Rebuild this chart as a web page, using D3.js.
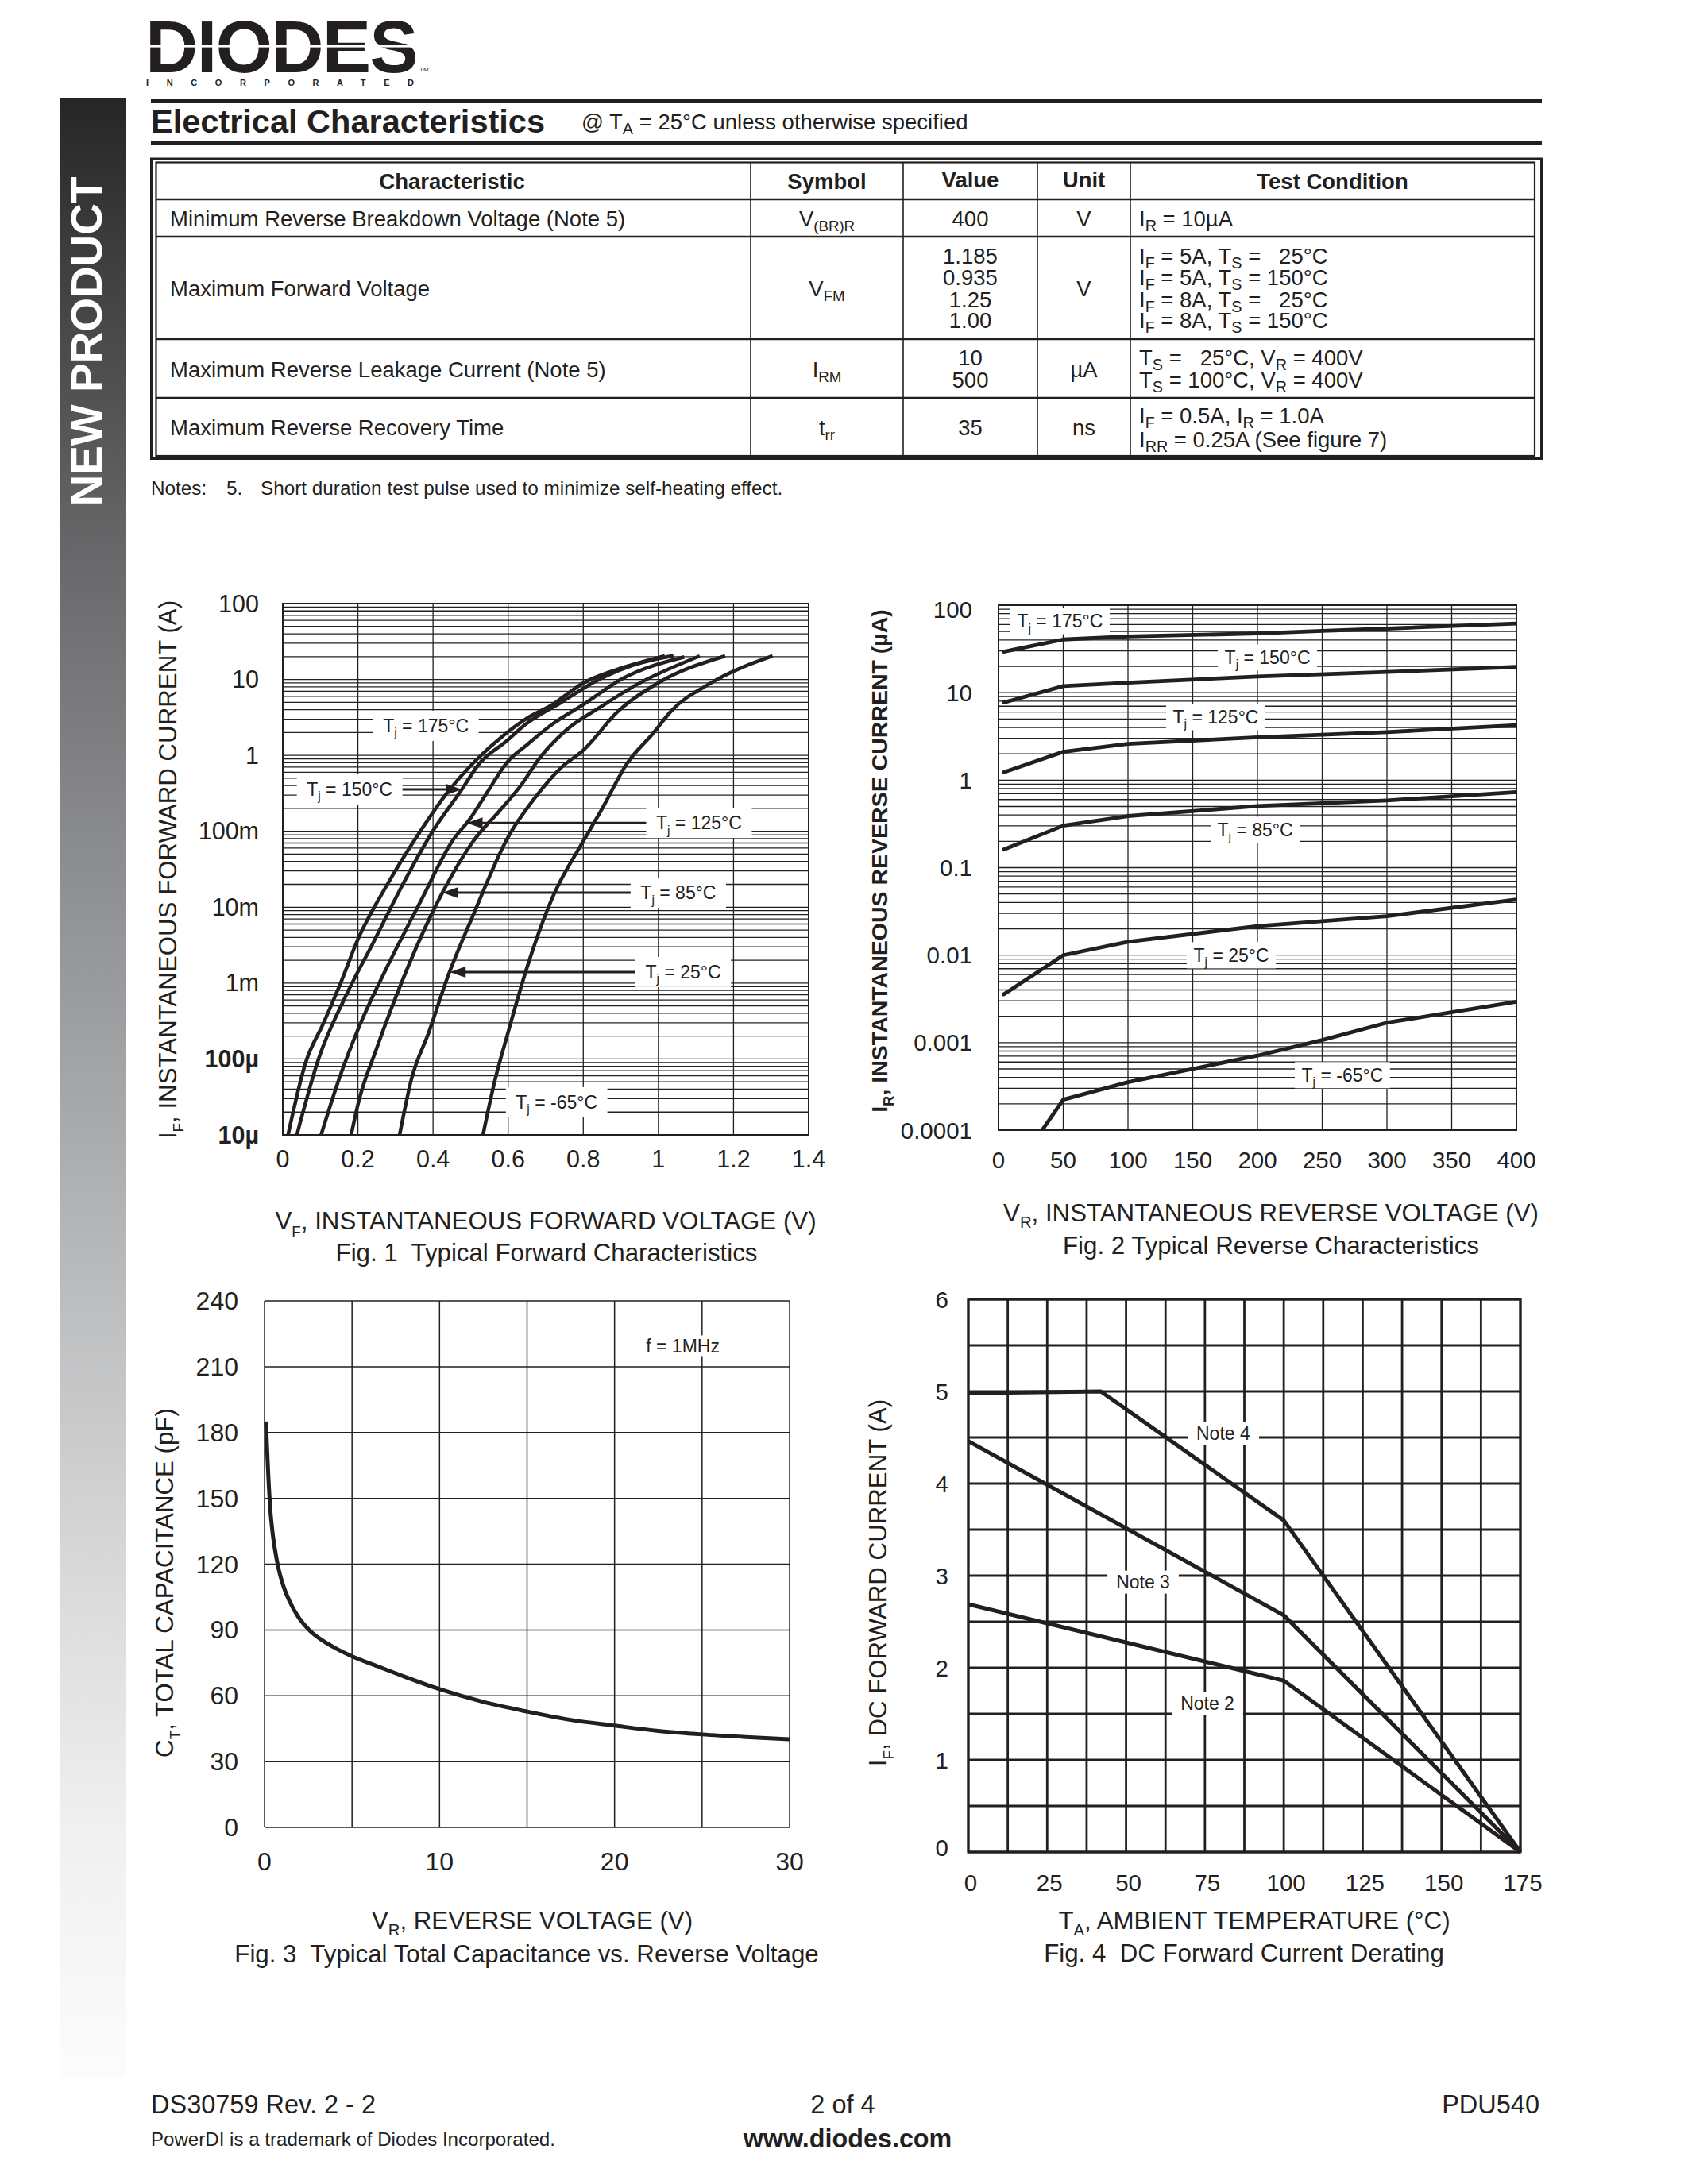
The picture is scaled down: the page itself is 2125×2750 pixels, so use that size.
<!DOCTYPE html>
<html>
<head>
<meta charset="utf-8">
<script src="https://cdn.jsdelivr.net/npm/d3@7"></script>
<style>
  html, body { margin: 0; padding: 0; background: #ffffff; }
  svg { display: block; }
  text { font-family: "Liberation Sans", Arial, Helvetica, sans-serif; }
</style>
</head>
<body>
<svg id="page" width="2125" height="2750" xmlns="http://www.w3.org/2000/svg"></svg>
<script>
// ====================== DATA ======================
// --- Electrical characteristics table
const tableHeaders = ["Characteristic", "Symbol", "Value", "Unit", "Test Condition"];
const tableCharacteristics = [
  "Minimum Reverse Breakdown Voltage (Note 5)",
  "Maximum Forward Voltage",
  "Maximum Reverse Leakage Current (Note 5)",
  "Maximum Reverse Recovery Time"
];
const tableSymbols = [["V", ["(BR)R"]], ["V", ["FM"]], ["I", ["RM"]], ["t", ["rr"]]];
const tableValues = [["400"], ["1.185", "0.935", "1.25", "1.00"], ["10", "500"], ["35"]];
const tableUnits = ["V", "V", "µA", "ns"];
const tableConditions = [
  [["I", ["R"], " = 10µA"]],
  [["I", ["F"], " = 5A, T", ["S"], " = \u00A0\u00A025°C"],
   ["I", ["F"], " = 5A, T", ["S"], " = 150°C"],
   ["I", ["F"], " = 8A, T", ["S"], " = \u00A0\u00A025°C"],
   ["I", ["F"], " = 8A, T", ["S"], " = 150°C"]],
  [["T", ["S"], " = \u00A0\u00A025°C, V", ["R"], " = 400V"],
   ["T", ["S"], " = 100°C, V", ["R"], " = 400V"]],
  [["I", ["F"], " = 0.5A, I", ["R"], " = 1.0A"],
   ["I", ["RR"], " = 0.25A (See figure 7)"]]
];
const tableNote = "Short duration test pulse used to minimize self-heating effect.";

// --- Fig. 1 Typical forward characteristics  [VF (V), IF (A)]
const fig1XTicks = [0, 0.2, 0.4, 0.6, 0.8, 1, 1.2, 1.4];
const fig1XTickLabels = ["0", "0.2", "0.4", "0.6", "0.8", "1", "1.2", "1.4"];
const fig1YTicks = [100, 10, 1, 0.1, 0.01, 0.001, 0.0001, 0.00001];
const fig1YTickLabels = ["100", "10", "1", "100m", "10m", "1m", "100µ", "10µ"];
const fig1YTickBold = [false, false, false, false, false, false, true, true];
const fig1_Tj175 = [[0.014,1e-5],[0.061,9.0e-5],[0.108,2.94e-4],[0.155,1.03e-3],[0.198,3.58e-3],[0.278,0.0198],[0.366,0.1],[0.436,0.314],[0.518,0.9],[0.589,1.86],[0.647,3.02],[0.718,4.67],[0.80,9.0],[0.905,14.3],[1.017,20.4]];
const fig1_Tj150 = [[0.0375,1e-5],[0.096,1.03e-4],[0.166,6.5e-4],[0.243,3.58e-3],[0.319,0.0198],[0.399,0.1],[0.477,0.358],[0.524,0.789],[0.594,1.52],[0.647,2.58],[0.741,4.98],[0.835,9.6],[0.929,15.2],[1.04,20.6]];
const fig1_Tj125 = [[0.102,1e-5],[0.149,5.3e-5],[0.202,2.58e-4],[0.272,1.43e-3],[0.366,0.0117],[0.451,0.074],[0.501,0.152],[0.542,0.314],[0.60,0.843],[0.647,1.34],[0.718,2.58],[0.80,4.67],[0.905,10.3],[1.069,19.8]];
const fig1_Tj85 = [[0.182,1e-5],[0.202,2.75e-5],[0.249,1.34e-4],[0.319,1.1e-3],[0.424,0.0152],[0.507,0.074],[0.577,0.186],[0.635,0.409],[0.682,0.9],[0.753,2.12],[0.847,4.37],[0.94,8.43],[1.11,20.4]];
const fig1_Tj25 = [[0.311,1e-5],[0.342,5.3e-5],[0.389,2.26e-4],[0.436,1.1e-3],[0.507,7.9e-3],[0.60,0.0843],[0.671,0.275],[0.741,0.69],[0.80,1.17],[0.893,3.83],[0.999,9.0],[1.178,20.4]];
const fig1_TjM65 = [[0.533,1e-5],[0.565,5.3e-5],[0.60,2.26e-4],[0.647,1.43e-3],[0.718,0.0134],[0.80,0.074],[0.847,0.186],[0.917,0.789],[0.987,1.98],[1.034,3.83],[1.14,9.0],[1.304,20.4]];
const fig1Series = [fig1_Tj175, fig1_Tj150, fig1_Tj125, fig1_Tj85, fig1_Tj25, fig1_TjM65];
const fig1Temps = ["175", "150", "125", "85", "25", "-65"];
const fig1LabelAt = [[0.381, 2.45], [0.178, 0.357], [1.108, 0.129], [1.053, 0.0155], [1.066, 1.40e-3], [0.729, 2.69e-5]];
const fig1LabelArrow = ["none", "right", "left", "left", "left", "none"];

// --- Fig. 2 Typical reverse characteristics  [VR (V), IR (µA)]
const fig2XTicks = [0, 50, 100, 150, 200, 250, 300, 350, 400];
const fig2XTickLabels = ["0", "50", "100", "150", "200", "250", "300", "350", "400"];
const fig2YTicks = [100, 10, 1, 0.1, 0.01, 0.001, 0.0001];
const fig2YTickLabels = ["100", "10", "1", "0.1", "0.01", "0.001", "0.0001"];
const fig2_Tj175 = [[4,29.4],[50,40.5],[100,43.9],[200,47.5],[250,50.9],[300,54],[400,61.8]];
const fig2_Tj150 = [[4,7.7],[50,11.9],[100,13.0],[200,15.3],[300,17.2],[400,19.7]];
const fig2_Tj125 = [[4,1.23],[50,2.11],[100,2.6],[200,3.09],[300,3.54],[400,4.25]];
const fig2_Tj85 = [[4,0.161],[50,0.302],[100,0.389],[200,0.506],[300,0.586],[400,0.73]];
const fig2_Tj25 = [[4,0.00356],[50,0.00998],[100,0.0142],[200,0.0215],[300,0.0279],[400,0.0432]];
const fig2_TjM65 = [[33.7,0.0001],[50,0.000223],[100,0.000353],[200,0.00071],[250,0.00107],[300,0.00169],[400,0.00293]];
const fig2Series = [fig2_Tj175, fig2_Tj150, fig2_Tj125, fig2_Tj85, fig2_Tj25, fig2_TjM65];
const fig2Temps = ["175", "150", "125", "85", "25", "-65"];
const fig2LabelAt = [[47.5, 65.8], [207.7, 25.2], [167.8, 5.25], [198.2, 0.270], [179.8, 0.00996], [265.6, 4.25e-4]];

// --- Fig. 3 Typical total capacitance  [VR (V), CT (pF)]
const fig3XGrid = [0, 5, 10, 15, 20, 25, 30];
const fig3XTicks = [0, 10, 20, 30];
const fig3XTickLabels = ["0", "10", "20", "30"];
const fig3YTicks = [0, 30, 60, 90, 120, 150, 180, 210, 240];
const fig3YTickLabels = ["0", "30", "60", "90", "120", "150", "180", "210", "240"];
const fig3_CT = [[0.08,185],[0.2,163],[0.33,145],[0.45,135],[0.63,125],[0.83,117],[1.08,110],[1.46,102.6],[1.96,95.6],[2.6,89.6],[3.35,85],[4.1,81.5],[5,78],[6.6,73],[7.9,69],[10,63],[12.4,57.4],[15,52.8],[17.5,49],[20,46.4],[22.5,44],[25,42.4],[27.5,41.2],[30,40.2]];
const fig3Label = "f = 1MHz";
const fig3LabelAt = [23.9, 219.4];

// --- Fig. 4 DC forward current derating  [TA (°C), IF (A)]
const fig4XGrid = [0, 12.5, 25, 37.5, 50, 62.5, 75, 87.5, 100, 112.5, 125, 137.5, 150, 162.5, 175];
const fig4XTicks = [0, 25, 50, 75, 100, 125, 150, 175];
const fig4XTickLabels = ["0", "25", "50", "75", "100", "125", "150", "175"];
const fig4YGrid = [0, 0.5, 1, 1.5, 2, 2.5, 3, 3.5, 4, 4.5, 5, 5.5, 6];
const fig4YTicks = [0, 1, 2, 3, 4, 5, 6];
const fig4YTickLabels = ["0", "1", "2", "3", "4", "5", "6"];
const fig4_Note4 = [[0,4.98],[42,5.0],[100,3.6],[175,0]];
const fig4_Note3 = [[0,4.46],[100,2.57],[175,0]];
const fig4_Note2 = [[0,2.69],[100,1.86],[175,0]];
const fig4Series = [fig4_Note4, fig4_Note3, fig4_Note2];
const fig4Labels = ["Note 4", "Note 3", "Note 2"];
const fig4LabelAt = [[80.8, 4.54], [55.4, 2.93], [75.8, 1.61]];

// --- Sidebar gradient greys (top -> bottom)
const sideStops = ["#262626", "#4b4b4c", "#6d6d6f", "#8a8b8e", "#a5a6a8", "#c0c1c2", "#dadadb", "#f0f0f0", "#fcfcfc"];

// ====================== DRAW ======================
const INK = "#231f20";
const svg = d3.select("#page");
const root = svg.append("g").attr("fill", INK);

function rich(parent, x, y, parts, size, opts) {
  opts = opts || {};
  const t = parent.append("text")
    .attr("x", x).attr("y", y)
    .attr("font-size", size)
    .attr("text-anchor", opts.anchor || "start")
    .attr("xml:space", "preserve");
  if (opts.weight) t.attr("font-weight", opts.weight);
  if (opts.transform) t.attr("transform", opts.transform);
  if (opts.fill) t.attr("fill", opts.fill);
  const subSize = size * (opts.subScale || 0.68);
  const subShift = size * (opts.subShift || 0.28);
  let cur = 0;
  (typeof parts === "string" ? [parts] : parts).forEach(p => {
    const isSub = Array.isArray(p);
    const target = isSub ? subShift : 0;
    const ts = t.append("tspan").text(isSub ? p[0] : p);
    if (target - cur !== 0) ts.attr("dy", target - cur);
    if (isSub) ts.attr("font-size", subSize);
    cur = target;
  });
  return t;
}

function boxedLabel(parent, cx, cy, parts, size, padX, h) {
  const grp = parent.append("g");
  const t = rich(grp, cx, cy + size * 0.35, parts, size, { anchor: "middle" });
  const bb = t.node().getBBox();
  const box = { x: bb.x - padX, y: cy - h / 2, w: bb.width + 2 * padX, h: h };
  grp.insert("rect", () => t.node())
    .attr("x", box.x).attr("y", box.y).attr("width", box.w).attr("height", box.h)
    .attr("fill", "#ffffff");
  return box;
}

// ---------- Sidebar ----------
const defs = svg.append("defs");
const grad = defs.append("linearGradient").attr("id", "sideGrad")
  .attr("x1", 0).attr("y1", 0).attr("x2", 0).attr("y2", 1);
sideStops.forEach((c, i) => grad.append("stop")
  .attr("offset", (i / (sideStops.length - 1) * 100) + "%").attr("stop-color", c));
root.append("rect").attr("x", 75).attr("y", 124).attr("width", 84).attr("height", 2493)
  .attr("fill", "url(#sideGrad)");
root.append("text")
  .attr("transform", "translate(128,430) rotate(-90)")
  .attr("text-anchor", "middle").attr("font-size", 55).attr("font-weight", "bold")
  .attr("fill", "#ffffff").attr("textLength", 415).attr("lengthAdjust", "spacingAndGlyphs")
  .text("NEW PRODUCT");

// ---------- Logo (one text element, three runs) ----------
const logo = root.append("text").attr("font-weight", "bold");
logo.append("tspan").attr("x", 183).attr("y", 91).attr("font-size", 92).attr("letter-spacing", -1.8).text("DIODES");
logo.append("tspan").attr("x", 528).attr("y", 90).attr("font-size", 8).attr("font-weight", "normal").text("TM");
logo.append("tspan").attr("x", 184).attr("y", 108).attr("font-size", 11).attr("letter-spacing", 22.6).text("INCORPORATED");
root.append("rect").attr("x", 183).attr("y", 57).attr("width", 343).attr("height", 2.6).attr("fill", "#ffffff");

// ---------- Heading ----------
root.append("rect").attr("x", 190).attr("y", 125).attr("width", 1751).attr("height", 5);
root.append("rect").attr("x", 190).attr("y", 178).attr("width", 1751).attr("height", 4.5);
root.append("text").attr("x", 190).attr("y", 167).attr("font-size", 41.5).attr("font-weight", "bold")
  .text("Electrical Characteristics");
rich(root, 732, 163, ["@ T", ["A"], " = 25°C unless otherwise specified"], 27.5, { subScale: 0.72, subShift: 0.22 });

// ---------- Table ----------
const tb = root.append("g");
tb.append("rect").attr("x", 190.5).attr("y", 200).attr("width", 1750).attr("height", 377.5)
  .attr("fill", "none").attr("stroke", INK).attr("stroke-width", 3);
tb.append("rect").attr("x", 196.5).attr("y", 204.5).attr("width", 1735.5).attr("height", 369.5)
  .attr("fill", "none").attr("stroke", INK).attr("stroke-width", 2.2);
const colX = [945, 1137, 1306, 1423];
const rowY = [251, 298, 427, 501];
colX.forEach(x => tb.append("line").attr("x1", x).attr("x2", x).attr("y1", 204.5).attr("y2", 574)
  .attr("stroke", INK).attr("stroke-width", 1.6));
rowY.forEach(y => tb.append("line").attr("x1", 196.5).attr("x2", 1932).attr("y1", y).attr("y2", y)
  .attr("stroke", INK).attr("stroke-width", 2.4));
const colCenters = [569, 1041, 1221.5, 1364.5, 1677.5];
const TFS = 27.5;
const SUB = { subScale: 0.72, subShift: 0.22 };
tableHeaders.forEach((h, i) => tb.append("text").attr("x", colCenters[i]).attr("y", i === 2 || i === 3 ? 236 : 238)
  .attr("text-anchor", "middle").attr("font-size", TFS).attr("font-weight", "bold").text(h));
const rowMid = [285, 373, 475, 548];
const rowLines = [[285], [332, 359, 387, 413], [460, 488], [533, 563]];
const rowValueLines = [[285], [332, 359, 387, 413], [460, 488], [548]];
tableCharacteristics.forEach((c, i) => {
  tb.append("text").attr("x", 214).attr("y", rowMid[i]).attr("font-size", TFS).text(c);
  rich(tb, colCenters[1], rowMid[i], tableSymbols[i], TFS, { anchor: "middle", subScale: 0.68, subShift: 0.22 });
  tableValues[i].forEach((v, j) => tb.append("text").attr("x", colCenters[2]).attr("y", rowValueLines[i][j])
    .attr("text-anchor", "middle").attr("font-size", TFS).text(v));
  tb.append("text").attr("x", colCenters[3]).attr("y", rowMid[i]).attr("text-anchor", "middle")
    .attr("font-size", TFS).text(tableUnits[i]);
  tableConditions[i].forEach((cp, j) => rich(tb, 1434, rowLines[i][j], cp, TFS, SUB));
});
root.append("text").attr("x", 190).attr("y", 623).attr("font-size", 24.3).text("Notes:");
root.append("text").attr("x", 285).attr("y", 623).attr("font-size", 24.3).text("5.");
root.append("text").attr("x", 328).attr("y", 623).attr("font-size", 24.3).text(tableNote);

// ---------- generic helpers ----------
const TICK_FS = 29.5;
const TITLE_FS = 31.25;
const LABEL_FS = 23;

function interpXAtLogY(series, yv) {
  const ly = Math.log10(yv);
  for (let i = 0; i < series.length - 1; i++) {
    const a = Math.log10(series[i][1]), b = Math.log10(series[i + 1][1]);
    if ((ly - a) * (ly - b) <= 0) {
      const f = (ly - a) / (b - a);
      return series[i][0] + f * (series[i + 1][0] - series[i][0]);
    }
  }
  return series[series.length - 1][0];
}

function arrowHead(parent, tipX, tipY, dir) {
  const L = 20, W = 7;
  const bx = tipX - dir * L;
  parent.append("path")
    .attr("d", `M${tipX},${tipY} L${bx},${tipY - W} L${bx},${tipY + W} Z`)
    .attr("fill", INK);
}

// ====================== FIG 1 ======================
(function () {
  const P = { l: 356, r: 1018, t: 760, b: 1429 };
  const x = d3.scaleLinear().domain([0, 1.4]).range([P.l, P.r]);
  const y = d3.scaleLog().domain([1e-5, 100]).range([P.b, P.t]);
  const g = root.append("g");
  const hGrid = [];
  for (let e = -5; e < 2; e++) for (let m = 1; m < 10; m++) hGrid.push(m * Math.pow(10, e));
  hGrid.push(100);
  g.selectAll("line.h").data(hGrid).join("line").attr("class", "h")
    .attr("x1", P.l).attr("x2", P.r).attr("y1", d => y(d)).attr("y2", d => y(d))
    .attr("stroke", INK).attr("stroke-width", 1.3);
  g.selectAll("line.v").data(fig1XTicks).join("line").attr("class", "v")
    .attr("x1", d => x(d)).attr("x2", d => x(d)).attr("y1", P.t).attr("y2", P.b)
    .attr("stroke", INK).attr("stroke-width", 1.3);
  g.append("rect").attr("x", P.l).attr("y", P.t).attr("width", P.r - P.l).attr("height", P.b - P.t)
    .attr("fill", "none").attr("stroke", INK).attr("stroke-width", 2);

  fig1YTicks.forEach((v, i) => g.append("text").attr("x", P.l - 30).attr("y", y(v) + 10.5)
    .attr("text-anchor", "end").attr("font-size", 30.5)
    .attr("font-weight", fig1YTickBold[i] ? "bold" : "normal").text(fig1YTickLabels[i]));
  fig1XTicks.forEach((v, i) => g.append("text").attr("x", x(v)).attr("y", 1470)
    .attr("text-anchor", "middle").attr("font-size", 30.5).text(fig1XTickLabels[i]));

  // labels + arrows
  fig1Temps.forEach((tj, i) => {
    const [lv, li] = fig1LabelAt[i];
    const cx = x(lv), cy = y(li);
    const box = boxedLabel(g, cx, cy, ["T", ["j"], " = " + tj + "°C"], LABEL_FS, 12.5, 38);
    const dir = fig1LabelArrow[i];
    if (dir !== "none") {
      const tipX = x(interpXAtLogY(fig1Series[i], li));
      const tailX = dir === "right" ? box.x + box.w : box.x;
      const s = dir === "right" ? 1 : -1;
      g.append("line").attr("x1", tailX).attr("x2", tipX - s * 16).attr("y1", cy).attr("y2", cy)
        .attr("stroke", INK).attr("stroke-width", 3);
      arrowHead(g, tipX, cy, s);
    }
  });

  defs.append("clipPath").attr("id", "clip1").append("rect")
    .attr("x", P.l).attr("y", P.t).attr("width", P.r - P.l).attr("height", P.b - P.t);
  const line = d3.line().x(d => x(d[0])).y(d => y(d[1])).curve(d3.curveMonotoneX);
  g.append("g").attr("clip-path", "url(#clip1)").selectAll("path").data(fig1Series).join("path")
    .attr("d", line).attr("fill", "none").attr("stroke", INK).attr("stroke-width", 4.5)
    .attr("stroke-linejoin", "round");

  rich(g, 0, 0, ["I", ["F"], ", INSTANTANEOUS FORWARD CURRENT (A)"], TITLE_FS,
    { anchor: "middle", transform: "translate(222,1095) rotate(-90)", subScale: 0.6 });
  rich(g, 687, 1548, ["V", ["F"], ", INSTANTANEOUS FORWARD VOLTAGE (V)"], TITLE_FS, { anchor: "middle", subScale: 0.6 });
  g.append("text").attr("x", 688).attr("y", 1588).attr("text-anchor", "middle").attr("font-size", TITLE_FS)
    .attr("xml:space", "preserve").text("Fig. 1  Typical Forward Characteristics");
})();

// ====================== FIG 2 ======================
(function () {
  const P = { l: 1257, r: 1909, t: 762, b: 1423 };
  const x = d3.scaleLinear().domain([0, 400]).range([P.l, P.r]);
  const y = d3.scaleLog().domain([1e-4, 100]).range([P.b, P.t]);
  const g = root.append("g");
  const hGrid = [];
  for (let e = -4; e < 2; e++) for (let m = 1; m < 10; m++) hGrid.push(m * Math.pow(10, e));
  hGrid.push(100);
  g.selectAll("line.h").data(hGrid).join("line").attr("class", "h")
    .attr("x1", P.l).attr("x2", P.r).attr("y1", d => y(d)).attr("y2", d => y(d))
    .attr("stroke", INK).attr("stroke-width", 1.3);
  g.selectAll("line.v").data(fig2XTicks).join("line").attr("class", "v")
    .attr("x1", d => x(d)).attr("x2", d => x(d)).attr("y1", P.t).attr("y2", P.b)
    .attr("stroke", INK).attr("stroke-width", 1.3);
  g.append("rect").attr("x", P.l).attr("y", P.t).attr("width", P.r - P.l).attr("height", P.b - P.t)
    .attr("fill", "none").attr("stroke", INK).attr("stroke-width", 2);

  fig2YTicks.forEach((v, i) => g.append("text").attr("x", 1224).attr("y", y(v) + 10.5 + (i === 0 ? 5 : 0))
    .attr("text-anchor", "end").attr("font-size", TICK_FS).text(fig2YTickLabels[i]));
  fig2XTicks.forEach((v, i) => g.append("text").attr("x", x(v)).attr("y", 1471)
    .attr("text-anchor", "middle").attr("font-size", TICK_FS).text(fig2XTickLabels[i]));

  fig2Temps.forEach((tj, i) => {
    const [lv, li] = fig2LabelAt[i];
    boxedLabel(g, x(lv), y(li), ["T", ["j"], " = " + tj + "°C"], LABEL_FS, 8.5, 33);
  });

  defs.append("clipPath").attr("id", "clip2").append("rect")
    .attr("x", P.l).attr("y", P.t - 3).attr("width", P.r - P.l).attr("height", P.b - P.t + 3);
  const line = d3.line().x(d => x(d[0])).y(d => y(d[1]));
  g.append("g").attr("clip-path", "url(#clip2)").selectAll("path").data(fig2Series).join("path")
    .attr("d", line).attr("fill", "none").attr("stroke", INK).attr("stroke-width", 4.8)
    .attr("stroke-linejoin", "round").attr("stroke-linecap", "round");

  rich(g, 0, 0, ["I", ["R"], ", INSTANTANEOUS REVERSE CURRENT (µA)"], 28.5,
    { anchor: "middle", weight: "bold", transform: "translate(1117,1084) rotate(-90)", subScale: 0.65 });
  rich(g, 1600, 1537.5, ["V", ["R"], ", INSTANTANEOUS REVERSE VOLTAGE (V)"], TITLE_FS, { anchor: "middle", subScale: 0.65 });
  g.append("text").attr("x", 1600).attr("y", 1578.5).attr("text-anchor", "middle").attr("font-size", TITLE_FS)
    .text("Fig. 2 Typical Reverse Characteristics");
})();

// ====================== FIG 3 ======================
(function () {
  const P = { l: 333, r: 994, t: 1638, b: 2301 };
  const x = d3.scaleLinear().domain([0, 30]).range([P.l, P.r]);
  const y = d3.scaleLinear().domain([0, 240]).range([P.b, P.t]);
  const g = root.append("g");
  g.selectAll("line.h").data(fig3YTicks).join("line").attr("class", "h")
    .attr("x1", P.l).attr("x2", P.r).attr("y1", d => y(d)).attr("y2", d => y(d))
    .attr("stroke", INK).attr("stroke-width", 1.5);
  g.selectAll("line.v").data(fig3XGrid).join("line").attr("class", "v")
    .attr("x1", d => x(d)).attr("x2", d => x(d)).attr("y1", P.t).attr("y2", P.b)
    .attr("stroke", INK).attr("stroke-width", 1.5);

  fig3YTicks.forEach((v, i) => g.append("text").attr("x", 300).attr("y", y(v) + 11)
    .attr("text-anchor", "end").attr("font-size", 32).text(fig3YTickLabels[i]));
  fig3XTicks.forEach((v, i) => g.append("text").attr("x", x(v)).attr("y", 2355)
    .attr("text-anchor", "middle").attr("font-size", 32).text(fig3XTickLabels[i]));

  boxedLabel(g, x(fig3LabelAt[0]), y(fig3LabelAt[1]), [fig3Label], LABEL_FS, 5, 27);

  const line = d3.line().x(d => x(d[0])).y(d => y(d[1])).curve(d3.curveMonotoneX);
  g.append("path").datum(fig3_CT).attr("d", line).attr("fill", "none").attr("stroke", INK)
    .attr("stroke-width", 5);

  rich(g, 0, 0, ["C", ["T"], ", TOTAL CAPACITANCE (pF)"], TITLE_FS,
    { anchor: "middle", transform: "translate(218,1993) rotate(-90)", subScale: 0.6 });
  rich(g, 670, 2428.5, ["V", ["R"], ", REVERSE VOLTAGE (V)"], TITLE_FS, { anchor: "middle", subScale: 0.65 });
  g.append("text").attr("x", 663).attr("y", 2471).attr("text-anchor", "middle").attr("font-size", TITLE_FS)
    .attr("xml:space", "preserve").text("Fig. 3  Typical Total Capacitance vs. Reverse Voltage");
})();

// ====================== FIG 4 ======================
(function () {
  const P = { l: 1219, r: 1914, t: 1636, b: 2332 };
  const x = d3.scaleLinear().domain([0, 175]).range([P.l, P.r]);
  const y = d3.scaleLinear().domain([0, 6]).range([P.b, P.t]);
  const g = root.append("g");
  g.selectAll("line.h").data(fig4YGrid).join("line").attr("class", "h")
    .attr("x1", P.l).attr("x2", P.r).attr("y1", d => y(d)).attr("y2", d => y(d))
    .attr("stroke", INK).attr("stroke-width", 2.8);
  g.selectAll("line.v").data(fig4XGrid).join("line").attr("class", "v")
    .attr("x1", d => x(d)).attr("x2", d => x(d)).attr("y1", P.t).attr("y2", P.b)
    .attr("stroke", INK).attr("stroke-width", 2.8);
  g.append("rect").attr("x", P.l).attr("y", P.t).attr("width", P.r - P.l).attr("height", P.b - P.t)
    .attr("fill", "none").attr("stroke", INK).attr("stroke-width", 3);

  fig4YTicks.forEach((v, i) => g.append("text").attr("x", 1194).attr("y", y(v) + 10.5 - (i === 0 ? 6 : 0))
    .attr("text-anchor", "end").attr("font-size", TICK_FS).text(fig4YTickLabels[i]));
  fig4XTicks.forEach((v, i) => g.append("text").attr("x", x(v) + 3).attr("y", 2381)
    .attr("text-anchor", "middle").attr("font-size", TICK_FS).text(fig4XTickLabels[i]));

  fig4Labels.forEach((lab, i) => boxedLabel(g, x(fig4LabelAt[i][0]), y(fig4LabelAt[i][1]), [lab], LABEL_FS, 11, 29));

  const line = d3.line().x(d => x(d[0])).y(d => y(d[1]));
  g.selectAll("path.s").data(fig4Series).join("path").attr("class", "s")
    .attr("d", line).attr("fill", "none").attr("stroke", INK).attr("stroke-width", 5)
    .attr("stroke-linejoin", "round");

  rich(g, 0, 0, ["I", ["F"], ", DC FORWARD CURRENT (A)"], TITLE_FS,
    { anchor: "middle", transform: "translate(1116,1993) rotate(-90)", subScale: 0.6 });
  rich(g, 1579, 2428.5, ["T", ["A"], ", AMBIENT TEMPERATURE (°C)"], TITLE_FS, { anchor: "middle", subScale: 0.65 });
  g.append("text").attr("x", 1566).attr("y", 2470).attr("text-anchor", "middle").attr("font-size", TITLE_FS)
    .attr("xml:space", "preserve").text("Fig. 4  DC Forward Current Derating");
})();

// ---------- Footer ----------
root.append("text").attr("x", 190).attr("y", 2661).attr("font-size", 32.5).text("DS30759 Rev. 2 - 2");
root.append("text").attr("x", 1061).attr("y", 2661).attr("font-size", 32.5).attr("text-anchor", "middle").text("2 of 4");
root.append("text").attr("x", 1938).attr("y", 2661).attr("font-size", 32.5).attr("text-anchor", "end").text("PDU540");
root.append("text").attr("x", 190).attr("y", 2702).attr("font-size", 24.1).text("PowerDI is a trademark of Diodes Incorporated.");
root.append("text").attr("x", 1067).attr("y", 2704).attr("font-size", 32.3).attr("font-weight", "bold")
  .attr("text-anchor", "middle").text("www.diodes.com");
</script>
</body>
</html>
